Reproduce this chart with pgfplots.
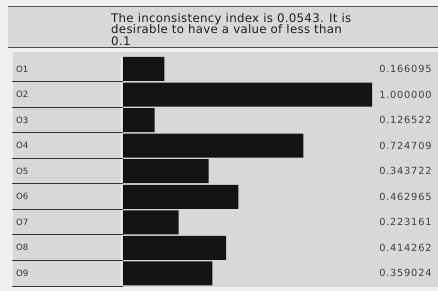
\documentclass[border=0pt]{standalone}
\usepackage{pgfplots}
\pgfplotsset{compat=1.18}
\usepackage{fontspec}
\setmainfont{DejaVu Sans}
\newfontfamily\valfont[LetterSpace=8]{DejaVu Sans}
\newfontfamily\titlefont[LetterSpace=2.5]{DejaVu Sans}
\definecolor{bg}{HTML}{D8D8D8}
\definecolor{edge}{HTML}{F0F0F0}
\definecolor{barc}{HTML}{141414}
\definecolor{linec}{HTML}{333333}
\begin{document}
\begin{tikzpicture}[x=1pt,y=1pt]
\useasboundingbox (0,0) rectangle (438,291);
\fill[edge] (0,0) rectangle (438,291);
% header
\fill[bg] (8,244) rectangle (438,284);
\draw[line width=1pt, color=black!65] (8,284) -- (438,284);
\draw[line width=1.3pt, color=black!70] (8,243.6) -- (438,243.6);
\node[anchor=north west, inner sep=0pt, align=left,
      font=\titlefont\fontsize{11.8}{11.6}\selectfont, text=black!88] at (111,277.8)
  {The inconsistency index is 0.0543. It is\\desirable to have a value of less than\\0.1};
% rows region
\fill[bg] (12,3.5) rectangle (438,239);
\draw[white!60!bg, line width=0.8pt] (12.4,3.5) -- (12.4,239);
\draw[white!60!bg, line width=0.8pt] (121.5,3.5) -- (121.5,235);
\foreach \k in {1,...,9} {
  \draw[linec, line width=0.9pt] (12,{235-25.56*\k}) -- (123,{235-25.56*\k});
}
\begin{axis}[
  at={(123pt,4.8pt)}, anchor=south west,
  scale only axis, width=249pt, height=230pt,
  xmin=0, xmax=1, ymin=0.5, ymax=9.5,
  y dir=reverse,
  axis line style={draw=none},
  tick style={draw=none},
  major tick length=0pt,
  xtick=\empty,
  ytick={1,2,3,4,5,6,7,8,9},
  yticklabels={O1,O2,O3,O4,O5,O6,O7,O8,O9},
  yticklabel style={anchor=west, xshift=-107pt, inner sep=0pt,
    font=\fontsize{8.6}{9}\selectfont, text=black!80},
  clip=false,
]
\addplot[xbar, bar width=24pt, bar shift=0pt, fill=barc, draw=none]
  coordinates {(0.166095,1) (1.000000,2) (0.126522,3) (0.724709,4)
               (0.343722,5) (0.462965,6) (0.223161,7) (0.414262,8) (0.359024,9)};
\addplot[draw=none, mark=none, nodes near coords, point meta=explicit symbolic,
  every node near coord/.append style={anchor=east, inner sep=0pt,
    font=\valfont\fontsize{9.8}{10}\selectfont, text=black!75}]
  coordinates {(1.2398,1) [0.166095] (1.2398,2) [1.000000] (1.2398,3) [0.126522]
               (1.2398,4) [0.724709] (1.2398,5) [0.343722] (1.2398,6) [0.462965]
               (1.2398,7) [0.223161] (1.2398,8) [0.414262] (1.2398,9) [0.359024]};
\end{axis}
\end{tikzpicture}
\end{document}
